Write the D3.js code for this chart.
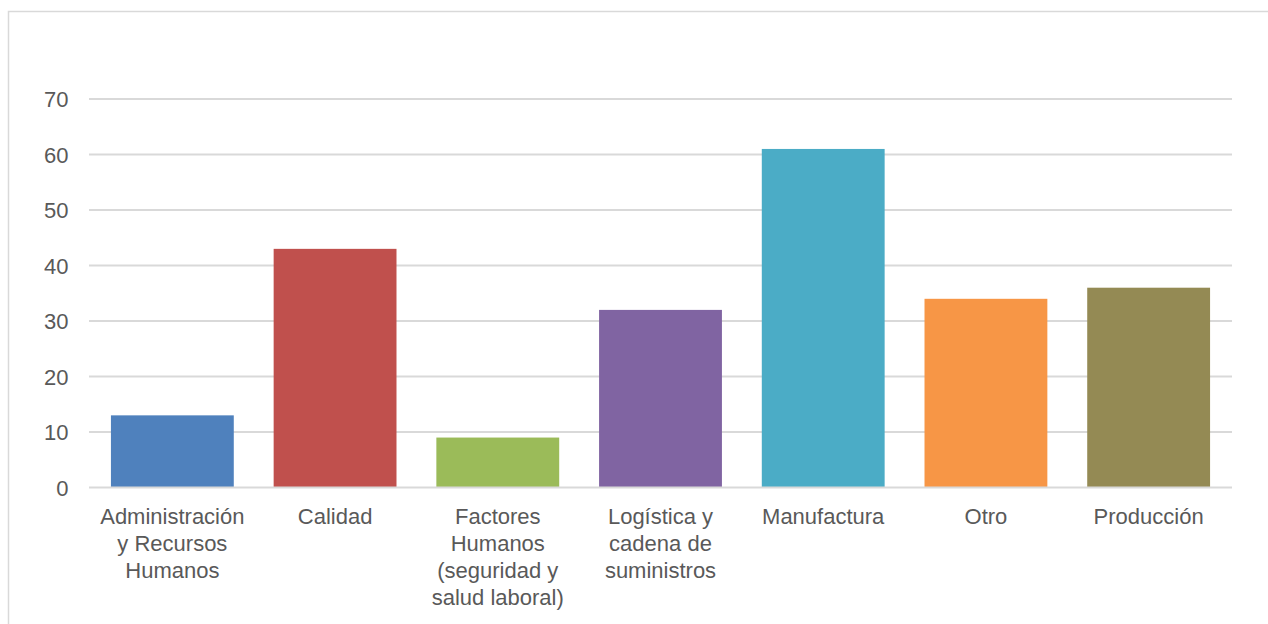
<!DOCTYPE html>
<html><head><meta charset="utf-8">
<script src="https://cdn.jsdelivr.net/npm/d3@7"></script>
<style>html,body{margin:0;padding:0;background:#fff;}svg{display:block;}</style>
</head><body>
<script>
const categories = [
  ["Administración","y Recursos","Humanos"],
  ["Calidad"],
  ["Factores","Humanos","(seguridad y","salud laboral)"],
  ["Logística y","cadena de","suministros"],
  ["Manufactura"],
  ["Otro"],
  ["Producción"]
];
const values = [13, 43, 9, 32, 61, 34, 36];
const colors = ["#4f81bd","#c0504d","#9bbb59","#8064a2","#4bacc6","#f79646","#948a54"];
const yTicks = [0,10,20,30,40,50,60,70];

const W = 1268, H = 624;
const svg = d3.select("body").append("svg").attr("width", W).attr("height", H);
svg.append("rect").attr("x",8.5).attr("y",11.5).attr("width",W).attr("height",H)
  .attr("fill","none").attr("stroke","#d9d9d9").attr("stroke-width",1.5);

const x = d3.scaleBand().domain(d3.range(categories.length)).range([91,1230]).paddingInner(0.245).paddingOuter(0.1225);
const y = d3.scaleLinear().domain([0,70]).range([487.5,99]);
const font = "'Liberation Sans', Arial, sans-serif";

// gridlines
svg.append("g").selectAll("line").data(yTicks.filter(d=>d>0)).join("line")
  .attr("x1",89).attr("x2",1232).attr("y1",d=>y(d)).attr("y2",d=>y(d))
  .attr("stroke","#d9d9d9").attr("stroke-width",1.8);

// bars
svg.append("g").selectAll("rect").data(values).join("rect")
  .attr("x",(d,i)=>x(i)).attr("width",x.bandwidth())
  .attr("y",d=>y(d)).attr("height",d=>y(0)-y(d))
  .attr("fill",(d,i)=>colors[i]);

// baseline
svg.append("line").attr("x1",89).attr("x2",1232).attr("y1",y(0)).attr("y2",y(0))
  .attr("stroke","#d9d9d9").attr("stroke-width",1.8);

// y axis labels
const yAxis = d3.axisLeft(y).tickValues(yTicks).tickSize(0).tickPadding(0);
const yg = svg.append("g").attr("transform","translate(68.5,0)").call(yAxis);
yg.select(".domain").remove();
yg.selectAll("text").attr("font-family",font).attr("font-size",22).attr("fill","#595959").attr("dy","0.36em");

// x labels
const xg = svg.append("g");
categories.forEach((lines,i)=>{
  const cx = x(i)+x.bandwidth()/2;
  const t = xg.append("text").attr("x",cx).attr("y",524)
    .attr("text-anchor","middle").attr("font-family",font).attr("font-size",22).attr("fill","#595959");
  lines.forEach((l,j)=>t.append("tspan").attr("x",cx).attr("y",524+j*27).text(l));
});
</script>
</body></html>
